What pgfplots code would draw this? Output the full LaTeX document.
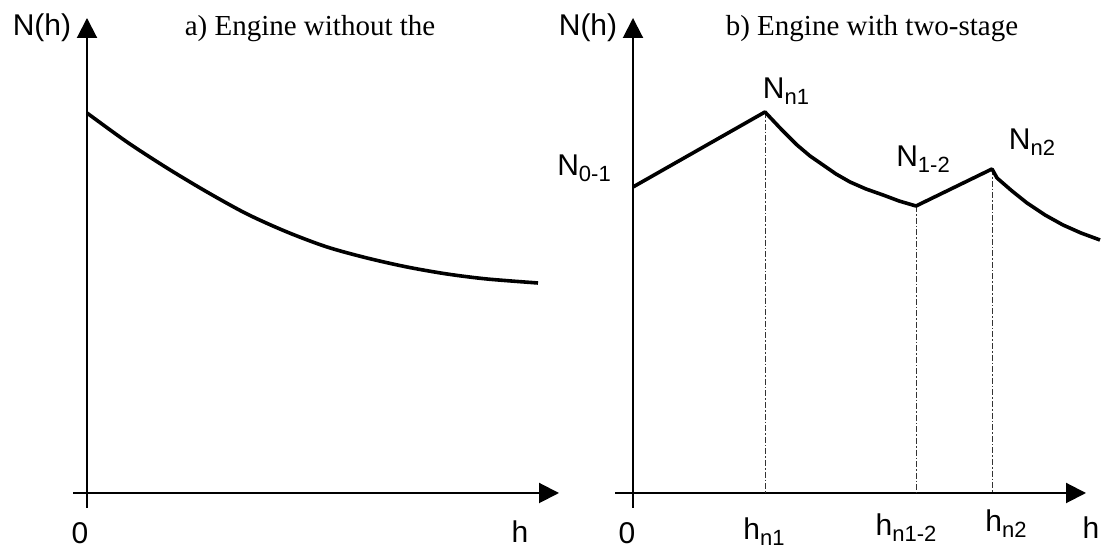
\documentclass[border=0pt]{standalone}
\usepackage{fontspec}
\setmainfont{Liberation Serif}
\newfontfamily\arialfont{Liberation Sans}
\usepackage{pgfplots}
\pgfplotsset{compat=1.18}
\usetikzlibrary{arrows.meta}
\newcommand\sub[1]{\raisebox{-3pt}{\fontsize{11}{12}\selectfont #1}}
\begin{document}
\begin{tikzpicture}
\tikzset{
  lab/.style={font=\arialfont\fontsize{15}{17}\selectfont, inner sep=0pt},
  ttl/.style={font=\fontsize{14.5}{17}\selectfont, inner sep=0pt},
  ax/.style={line width=1pt, -{Triangle[length=10pt,width=10pt]}},
  drop/.style={line width=0.5pt, dash pattern=on 3pt off 1pt on 0.8pt off 1pt, black!80},
}
% ---------- panel a ----------
\begin{axis}[
  x=0.5pt, y=0.5pt, xmin=-87, xmax=466, ymin=-56, ymax=493,
  hide axis, clip=false, enlargelimits=false,
  anchor=south west, at={(0pt,0pt)},
]
\draw[line width=1pt] (axis cs:0,-15) -- (axis cs:0,0);
\draw[ax] (axis cs:0,0) -- (axis cs:0,475);
\draw[ax] (axis cs:-14,0) -- (axis cs:472,0);
\addplot[smooth, line width=1.8pt, black] coordinates {
 (0,380) (40,351) (80,325) (120,301) (160,279) (200,261) (240,246)
 (280,235) (320,226) (360,219) (400,214) (451,210)};
\node[lab] at (axis cs:-45,465) {N(h)};
\node[ttl] at (axis cs:223,464) {a) Engine without the};
\node[lab] at (axis cs:-7,-40) {0};
\node[lab] at (axis cs:433,-39) {h};
\end{axis}
% ---------- panel b ----------
\begin{axis}[
  x=0.5pt, y=0.5pt, xmin=-80, xmax=468, ymin=-56, ymax=493,
  hide axis, clip=false, enlargelimits=false,
  anchor=south west, at={(276.5pt,0pt)},
]
\draw[line width=1pt] (axis cs:0,-15) -- (axis cs:0,0);
\draw[ax] (axis cs:0,0) -- (axis cs:0,475);
\draw[ax] (axis cs:-18,0) -- (axis cs:453,0);
\draw[drop] (axis cs:132,381) -- (axis cs:132,0);
\draw[drop] (axis cs:283,287) -- (axis cs:283,0);
\draw[drop] (axis cs:359,324) -- (axis cs:359,0);
\addplot[line width=1.8pt, black, line join=round] coordinates {
 (0,306) (132,381) (148,364) (164,348) (177,337) (190,328) (203,319)
 (217,311) (233,304) (250,298) (266,292) (283,287) (359,324)
 (364,315) (379,302) (394,290) (412,278) (430,268) (448,260) (467,253)};
\node[lab] at (axis cs:-45,465) {N(h)};
\node[ttl] at (axis cs:239,464) {b) Engine with two-stage};
\node[lab] at (axis cs:153,402) {N\sub{n1}};
\node[lab] at (axis cs:-49,325) {N\sub{0-1}};
\node[lab] at (axis cs:290,334) {N\sub{1-2}};
\node[lab] at (axis cs:399,351) {N\sub{n2}};
\node[lab] at (axis cs:-6,-40) {0};
\node[lab] at (axis cs:131,-39) {h\sub{n1}};
\node[lab] at (axis cs:273,-35) {h\sub{n1-2}};
\node[lab] at (axis cs:373,-31) {h\sub{n2}};
\node[lab] at (axis cs:458,-35) {h};
\end{axis}
\pgfresetboundingbox
\useasboundingbox (0pt,0pt) rectangle (550.5pt,274.5pt);
\end{tikzpicture}
\end{document}
